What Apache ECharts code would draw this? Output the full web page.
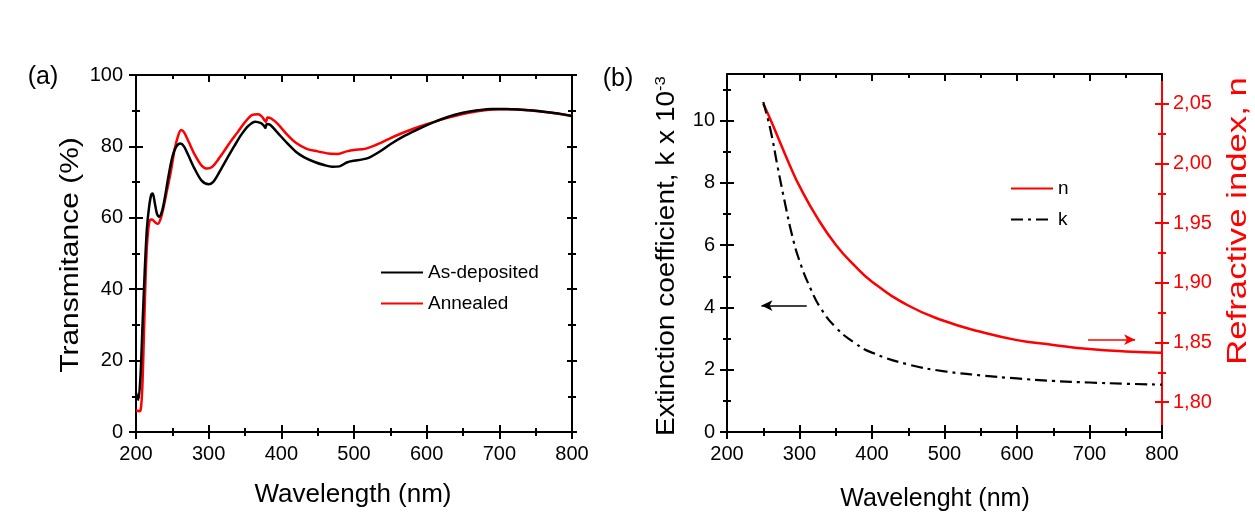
<!DOCTYPE html>
<html><head><meta charset="utf-8">
<script src="https://cdn.jsdelivr.net/npm/echarts@6/dist/echarts.min.js"></script>
<style>html,body{margin:0;padding:0;background:#fff}#c{width:1255px;height:524px}</style>
</head><body><div id="c"></div>
<script>
// ---------- Panel (a): transmittance ----------
const depX = [200,203,206,209,212,215,218,221,223,226,229,232,236,240,245,250,255,261,266,272,280,290,300,306,312,318,325,335,345,355,364,372,376,378,380,385,395,408,420,431,445,460,470,480,490,500,510,520,535,550,570,590,610,630,650,670,690,710,730,750,770,790,800];
const depY = [11,9,15,30,45,57,63,66.5,66.8,64,61,60.3,62,66,72,77,79.8,80.8,80,77.5,74,70.5,69.4,70,71.8,74,76.5,80,83.3,85.8,86.9,86.5,85.8,85.2,86.3,86,83.8,80.9,78.5,77,75.7,74.7,74.3,74.4,75.5,76,76.3,76.8,78.5,80.6,83,85,86.8,88.3,89.4,90.1,90.5,90.5,90.3,90,89.5,88.9,88.5];
const annX = [200,205,207,209,211,213,215,217,219,222,226,230,234,238,243,248,253,258,262,266,272,280,290,298,305,312,320,330,340,350,360,368,373,377,379,381,386,395,408,420,435,450,465,478,490,500,515,530,545,560,580,600,620,640,660,680,700,720,740,760,780,800];
const annY = [6,5.8,7,14,28,42,52,57,59.3,59.5,58.8,58.3,59.8,63,68,73,79,83,84.6,84,81.5,78,74.7,73.8,74.3,76,78.3,81.3,84,86.8,88.8,89,88.4,87.3,86.9,88.1,87.8,86.3,83.3,81,79.3,78.6,78,77.9,78.6,79,79.3,80.4,81.8,83.2,84.8,86.2,87.5,88.6,89.5,90.1,90.4,90.4,90.1,89.7,89.2,88.5];
const namesA = ['As-deposited','Annealed'];

// ---------- Panel (b): optical constants ----------
const nX = [250,262,275,287,300,325,350,375,400,450,500,550,600,650,700,750,800];
const nY = [2.050,2.034,2.015,1.998,1.981,1.954,1.932,1.915,1.901,1.881,1.868,1.859,1.852,1.848,1.8445,1.8425,1.8415];
const kX = [250,260,270,280,290,300,315,330,350,375,400,450,500,550,600,650,700,750,800];
const kY = [10.6,9.7,8.5,7.35,6.3,5.5,4.62,3.95,3.36,2.88,2.55,2.17,1.95,1.82,1.72,1.64,1.59,1.55,1.52];
const namesB = ['n','k'];
const kMajorTicks = [0,2,4,6,8,10];
const kMinorTicks = [1,3,5,7,9,11];
const nMajorTicks = [1.80,1.85,1.90,1.95,2.00,2.05];
const nMinorTicks = [1.825,1.875,1.925,1.975,2.025];
const leftArrow = [310, 247.5, 4.06];   // from, to, k level
const rightArrow = [698, 763, 1.8524];  // from, to, n level

const FONT = '"Liberation Sans", Arial, sans-serif';
const RED = '#ff0000';
function zip(a,b){return a.map((v,i)=>[v,b[i]]);}

function tickAxes(grid, pos, min, max, color, opts) {
  const out = [];
  const common = {type:'value', gridIndex:grid, position:pos, min, max, splitLine:{show:false}};
  if (opts.interval) common.interval = opts.interval;
  const tickStyle = {color, width:2};
  out.push(Object.assign({}, common, {
    axisLine:{show:opts.line!==false, onZero:false, lineStyle:{color, width:2}},
    axisTick:Object.assign({show:opts.outTicks!==false, inside:false, length:opts.len||7, lineStyle:tickStyle}, opts.custom?{customValues:opts.custom}:{}),
    minorTick:{show:!!opts.minor && opts.outTicks!==false, splitNumber:2, length:4, lineStyle:tickStyle},
    axisLabel:Object.assign({show:!!opts.labels, fontSize:20, color, fontFamily:FONT, margin:opts.margin||12, formatter:opts.fmt}, opts.custom?{customValues:opts.custom}:{})
  }));
  out.push(Object.assign({}, common, {
    axisLine:{show:false, onZero:false},
    axisTick:Object.assign({show:true, inside:true, length:opts.len||7, lineStyle:tickStyle}, opts.custom?{customValues:opts.custom}:{}),
    minorTick:{show:!!opts.minor, splitNumber:2, length:4, lineStyle:tickStyle},
    axisLabel:{show:false}
  }));
  return out;
}

const xAxis = [];
const yAxis = [];
xAxis.push(...tickAxes(0,'bottom',200,800,'#000',{interval:100,minor:true,labels:true,margin:12}));
xAxis.push(...tickAxes(0,'top',200,800,'#000',{interval:100,minor:true,outTicks:false}));
xAxis.push(...tickAxes(1,'bottom',200,800,'#000',{interval:100,minor:true,labels:true,margin:12}));
xAxis.push(...tickAxes(1,'top',200,800,'#000',{interval:100,minor:true,outTicks:false}));
yAxis.push(...tickAxes(0,'left',0,100,'#000',{interval:20,minor:true,labels:true,margin:13}));
yAxis.push(...tickAxes(0,'right',0,100,'#000',{interval:20,minor:true,len:5}));
yAxis.push(...tickAxes(1,'left',0,11.5,'#000',{custom:kMajorTicks,labels:true,margin:12}));
yAxis.push(...tickAxes(1,'left',0,11.5,'#000',{custom:kMinorTicks,len:4,line:false}));
yAxis.push(...tickAxes(1,'right',1.775,2.075,RED,{custom:nMajorTicks,labels:true,margin:11,fmt:v=>v.toFixed(2).replace('.',',')}));
yAxis.push(...tickAxes(1,'right',1.775,2.075,RED,{custom:nMinorTicks,len:4,line:false}));

function arrowLine(from,to,lvl,color){
  return {silent:true, symbol:['none','arrow'], symbolSize:[8,11], label:{show:false},
    lineStyle:{color, width:1.5, type:'solid'}, emphasis:{disabled:true},
    data:[[{coord:[from,lvl]},{coord:[to,lvl]}]]};
}

const legendBase = {orient:'vertical', itemWidth:42, itemHeight:14, itemGap:12, padding:0,
  itemStyle:{color:'rgba(0,0,0,0)', borderWidth:0, opacity:0},
  textStyle:{fontSize:19, color:'#000', fontFamily:FONT}};

const option = {
  animation:false,
  backgroundColor:'#fff',
  textStyle:{fontFamily:FONT},
  grid:[
    {left:136, top:75, width:436, height:357},
    {left:727, top:74, width:435, height:358}
  ],
  xAxis, yAxis,
  legend:[
    Object.assign({data:namesA, left:380, top:263}, legendBase),
    Object.assign({data:namesB, left:1010, top:179}, legendBase)
  ],
  series:[
    {name:namesA[0], type:'line', xAxisIndex:0, yAxisIndex:0, data:zip(depX,depY), symbol:'none', smooth:0.3,
     lineStyle:{color:'#000', width:2.5}, itemStyle:{color:'#000'}, z:3},
    {name:namesA[1], type:'line', xAxisIndex:0, yAxisIndex:0, data:zip(annX,annY), symbol:'none', smooth:0.3,
     lineStyle:{color:RED, width:2.5}, itemStyle:{color:RED}, z:2},
    {name:namesB[0], type:'line', xAxisIndex:4, yAxisIndex:8, data:zip(nX,nY), symbol:'none', smooth:0.5,
     lineStyle:{color:RED, width:2.5}, itemStyle:{color:RED},
     markLine:arrowLine(rightArrow[0],rightArrow[1],rightArrow[2],RED)},
    {name:namesB[1], type:'line', xAxisIndex:4, yAxisIndex:4, data:zip(kX,kY), symbol:'none', smooth:0.5,
     lineStyle:{color:'#000', width:2.2, type:[12,5,3,5]}, itemStyle:{color:'#000'},
     markLine:arrowLine(leftArrow[0],leftArrow[1],leftArrow[2],'#000')}
  ],
  graphic:[
    {type:'text', x:43, y:77, style:{text:'(a)', fontSize:25, fontFamily:FONT, fill:'#000', align:'center', verticalAlign:'middle'}},
    {type:'text', x:618, y:79, style:{text:'(b)', fontSize:25, fontFamily:FONT, fill:'#000', align:'center', verticalAlign:'middle'}},
    {type:'text', x:71, y:255, rotation:Math.PI/2, scaleX:1.2, style:{text:'Transmitance (%)', fontSize:25, fontFamily:FONT, fill:'#000', align:'center', verticalAlign:'middle'}},
    {type:'text', x:353, y:495, style:{text:'Wavelength (nm)', fontSize:26, fontFamily:FONT, fill:'#000', align:'center', verticalAlign:'middle'}},
    {type:'text', x:935, y:499, style:{text:'Wavelenght (nm)', fontSize:25, fontFamily:FONT, fill:'#000', align:'center', verticalAlign:'middle'}},
    {type:'text', x:667, y:256, rotation:Math.PI/2, scaleX:1.12, style:{text:'Extinction coefficient, k x 10{sup|-3}', fontSize:25, fontFamily:FONT, fill:'#000', align:'center', verticalAlign:'middle',
      rich:{sup:{fontSize:15, fontFamily:FONT, fill:'#000', verticalAlign:'top', padding:[0,0,12,0]}}}},
    {type:'text', x:1238, y:221, rotation:Math.PI/2, scaleX:1.24, style:{text:'Refractive index, n', fontSize:28, fontFamily:FONT, fill:RED, align:'center', verticalAlign:'middle'}}
  ]
};
const chart = echarts.init(document.getElementById('c'), null, {renderer:'canvas'});
chart.setOption(option);
</script>
</body></html>
